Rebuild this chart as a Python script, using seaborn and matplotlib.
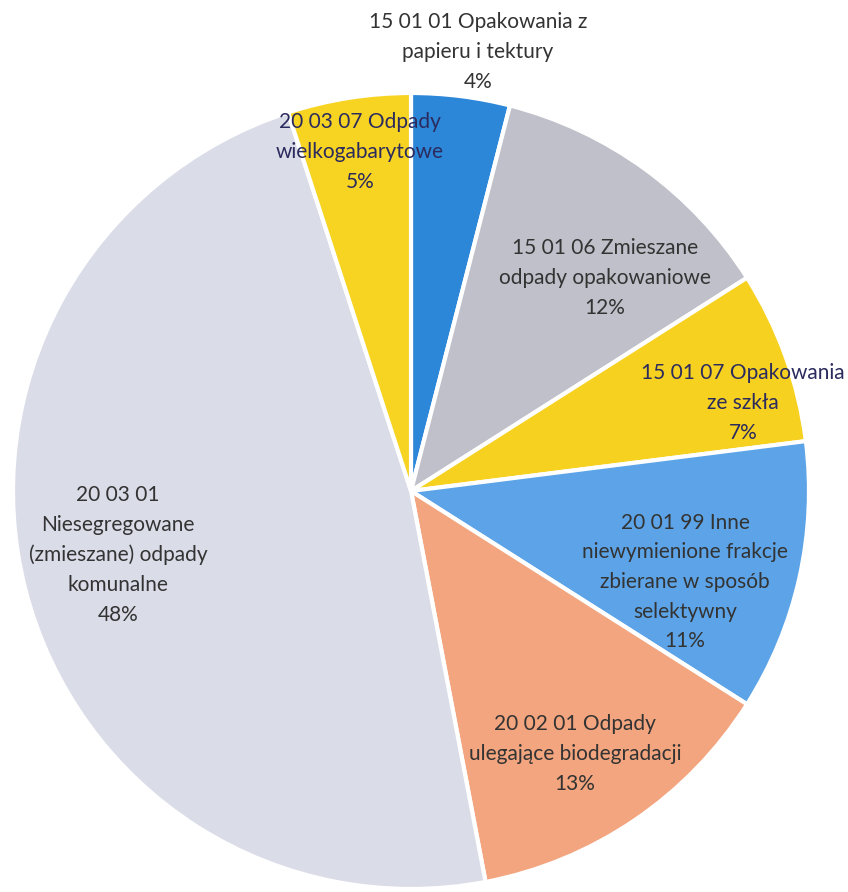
import matplotlib
matplotlib.use("Agg")
import matplotlib.pyplot as plt
import seaborn as sns

# dane
categories = [
    "15 01 01 Opakowania z\npapieru i tektury",
    "15 01 06 Zmieszane\nodpady opakowaniowe",
    "15 01 07 Opakowania\nze szkła",
    "20 01 99 Inne\nniewymienione frakcje\nzbierane w sposób\nselektywny",
    "20 02 01 Odpady\nulegające biodegradacji",
    "20 03 01\nNiesegregowane\n(zmieszane) odpady\nkomunalne",
    "20 03 07 Odpady\nwielkogabarytowe",
]
shares = [4, 12, 7, 11, 13, 48, 5]

colors = ["#2c87d9", "#bfc0c9", "#f7d120", "#5ca4e7", "#f2a57e", "#dadce8", "#f7d322"]
text_colors = ["#333333", "#333333", "#2b2b5e", "#333333", "#333333", "#333333", "#2b2b5e"]
# pozycje etykiet (piksele obrazu)
label_px = [(478, 52), (605, 278), (743, 403), (685, 582), (575, 754), (118, 555), (360, 152)]

sns.set_theme(style="white")
plt.rcParams["font.family"] = ["Lato", "DejaVu Sans"]

W, H = 848, 892
cx, cy, r = 411, 491, 398
fig = plt.figure(figsize=(W / 100, H / 100), dpi=100)
ax = fig.add_axes([(cx - r) / W, (H - cy - r) / H, 2 * r / W, 2 * r / H])

wedges, _ = ax.pie(
    shares,
    colors=colors,
    startangle=90,
    counterclock=False,
    wedgeprops=dict(edgecolor="white", linewidth=3),
)
ax.set_xlim(-1, 1)
ax.set_ylim(-1, 1)
ax.set_aspect("auto")

for cat, val, (px, py), tc in zip(categories, shares, label_px, text_colors):
    x = (px - cx) / r
    y = (cy - py) / r
    ax.text(x, y, f"{cat}\n{val}%", ha="center", va="center", fontsize=15,
            color=tc, linespacing=1.6, clip_on=False)

fig.savefig("out.png", dpi=100)
